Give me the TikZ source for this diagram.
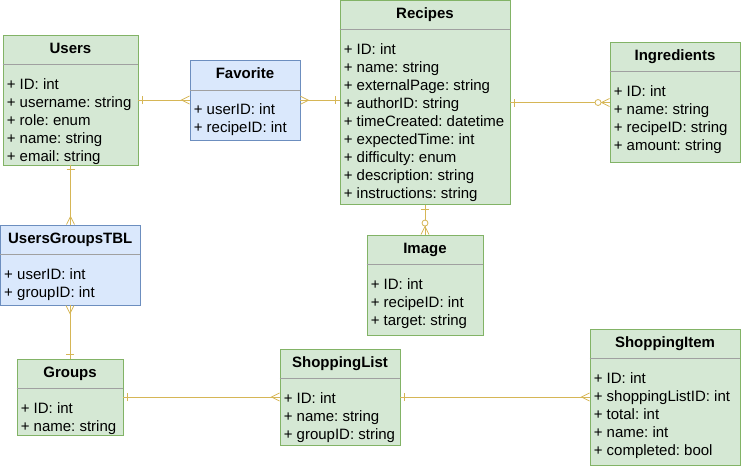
\documentclass[tikz,border=0pt]{standalone}
\usepackage{fontspec}
\setmainfont{Liberation Sans}
\usepackage{xcolor}
\usepackage{tikz}
\usetikzlibrary{calc}
\usetikzlibrary{decorations.markings}
\definecolor{tblgreen}{HTML}{D5E8D4}
\definecolor{tblgreenline}{HTML}{82B366}
\definecolor{tblblue}{HTML}{DAE8FC}
\definecolor{tblblueline}{HTML}{6C8EBF}
\definecolor{relline}{HTML}{D6B656}
\definecolor{sepgray}{HTML}{A0A0A0}
\frenchspacing

\begin{document}
\begin{tikzpicture}[x=1pt,y=-1pt,
		every node/.style={font=\fontsize{15pt}{18pt}\selectfont},
		greentbl/.style={draw=tblgreenline,fill=tblgreen,inner sep=0pt,line width=0.9pt},
		bluetbl/.style={draw=tblblueline,fill=tblblue,inner sep=0pt,line width=0.9pt},
		tbltitle/.style={anchor=base,inner sep=0pt,font=\fontsize{15pt}{18pt}\selectfont\bfseries},
		tblattr/.style={anchor=north west,inner sep=0pt,align=left,
			execute at begin node={\rule{0pt}{13pt}}},
		tblsep/.style={draw=sepgray,line width=0.9pt},
		relmark/.style={draw=relline,line width=0.8pt},
		rel/.style={draw=relline,line width=0.8pt},
		one start/.style={postaction={decorate,decoration={markings,
			mark=at position 4pt with {\draw[relmark] (0,-4pt) -- (0,4pt);}}}},
		many end/.style={postaction={decorate,decoration={markings,
			mark=at position -8pt with {\draw[relmark] (8pt,4pt) -- (0,0) -- (8pt,-4pt);}}}},
		zero end/.style={postaction={decorate,decoration={markings,
			mark=at position -11.5pt with {\draw[relmark,fill=white] (0,0) circle (3pt);}}}}]
		\useasboundingbox (0,0) rectangle (741,466);

		% tables
		\node[greentbl,minimum width=135pt,minimum height=130pt] (users) at (70.5,100) {};
		\node[bluetbl,minimum width=110pt,minimum height=79.5pt] (fav) at (245,100.25) {};
		\node[greentbl,minimum width=170pt,minimum height=204.5pt] (rec) at (425,102.5) {};
		\node[greentbl,minimum width=130pt,minimum height=120pt] (ingr) at (675,102) {};
		\node[bluetbl,minimum width=139.5pt,minimum height=80pt] (ugt) at (70.25,265) {};
		\node[greentbl,minimum width=116pt,minimum height=100pt] (img) at (425,285) {};
		\node[greentbl,minimum width=106pt,minimum height=76pt] (groups) at (70,397) {};
		\node[greentbl,minimum width=120pt,minimum height=96pt] (slist) at (340,397) {};
		\node[greentbl,minimum width=150pt,minimum height=136pt] (sitem) at (665,397) {};

		% separators
		\draw[tblsep] ([yshift=-30pt]users.north west) -- ([yshift=-30pt]users.north east);
		\draw[tblsep] ([yshift=-30pt]fav.north west) -- ([yshift=-30pt]fav.north east);
		\draw[tblsep] ([yshift=-30pt]rec.north west) -- ([yshift=-30pt]rec.north east);
		\draw[tblsep] ([yshift=-30pt]ingr.north west) -- ([yshift=-30pt]ingr.north east);
		\draw[tblsep] ([yshift=-30pt]ugt.north west) -- ([yshift=-30pt]ugt.north east);
		\draw[tblsep] ([yshift=-30pt]img.north west) -- ([yshift=-30pt]img.north east);
		\draw[tblsep] ([yshift=-30pt]groups.north west) -- ([yshift=-30pt]groups.north east);
		\draw[tblsep] ([yshift=-30pt]slist.north west) -- ([yshift=-30pt]slist.north east);
		\draw[tblsep] ([yshift=-30pt]sitem.north west) -- ([yshift=-30pt]sitem.north east);

		% titles
		\node[tbltitle] (users title) at ([yshift=-18.5pt]users.north) {Users};
		\node[tbltitle] (fav title) at ([yshift=-18.5pt]fav.north) {Favorite};
		\node[tbltitle] (rec title) at ([yshift=-18.5pt]rec.north) {Recipes};
		\node[tbltitle] (ingr title) at ([yshift=-18.5pt]ingr.north) {Ingredients};
		\node[tbltitle] (ugt title) at ([yshift=-18.5pt]ugt.north) {UsersGroupsTBL};
		\node[tbltitle] (img title) at ([yshift=-18.5pt]img.north) {Image};
		\node[tbltitle] (groups title) at ([yshift=-18.5pt]groups.north) {Groups};
		\node[tbltitle] (slist title) at ([yshift=-18.5pt]slist.north) {ShoppingList};
		\node[tbltitle] (sitem title) at ([yshift=-18.5pt]sitem.north) {ShoppingItem};

		% attributes
		\node[tblattr] (users attr) at ([xshift=4pt,yshift=-43.5pt]users.north west)
			{+ ID: int\\+ username: string\\+ role: enum\\+ name: string\\+ email: string};
		\node[tblattr] (fav attr) at ([xshift=4pt,yshift=-43.5pt]fav.north west)
			{+ userID: int\\+ recipeID: int};
		\node[tblattr] (rec attr) at ([xshift=4pt,yshift=-43.5pt]rec.north west)
			{+ ID: int\\+ name: string\\+ externalPage: string\\+ authorID: string\\+ timeCreated: datetime\\+ expectedTime: int\\+ difficulty: enum\\+ description: string\\+ instructions: string};
		\node[tblattr] (ingr attr) at ([xshift=4pt,yshift=-43.5pt]ingr.north west)
			{+ ID: int\\+ name: string\\+ recipeID: string\\+ amount: string};
		\node[tblattr] (ugt attr) at ([xshift=4pt,yshift=-43.5pt]ugt.north west)
			{+ userID: int\\+ groupID: int};
		\node[tblattr] (img attr) at ([xshift=4pt,yshift=-43.5pt]img.north west)
			{+ ID: int\\+ recipeID: int\\+ target: string};
		\node[tblattr] (groups attr) at ([xshift=4pt,yshift=-43.5pt]groups.north west)
			{+ ID: int\\+ name: string};
		\node[tblattr] (slist attr) at ([xshift=4pt,yshift=-43.5pt]slist.north west)
			{+ ID: int\\+ name: string\\+ groupID: string};
		\node[tblattr] (sitem attr) at ([xshift=4pt,yshift=-43.5pt]sitem.north west)
			{+ ID: int\\+ shoppingListID: int\\+ total: int\\+ name: int\\+ completed: bool};

		% relations
		\draw[rel,one start,many end] (users.east) -- (users.east -| fav.west);
		\draw[rel,one start,many end] (rec.west |- fav.east) -- (fav.east);
		\draw[rel,one start,many end,zero end] (rec.east) -- (rec.east -| ingr.west);
		\draw[rel,one start,many end] (users.south) -- (users.south |- ugt.north);
		\draw[rel,one start,many end] (groups.north) -- (groups.north |- ugt.south);
		\draw[rel,one start,many end,zero end] (rec.south) -- (img.north);
		\draw[rel,one start,many end] (groups.east) -- (groups.east -| slist.west);
		\draw[rel,one start,many end] (slist.east) -- (slist.east -| sitem.west);
	\end{tikzpicture}
\end{document}
